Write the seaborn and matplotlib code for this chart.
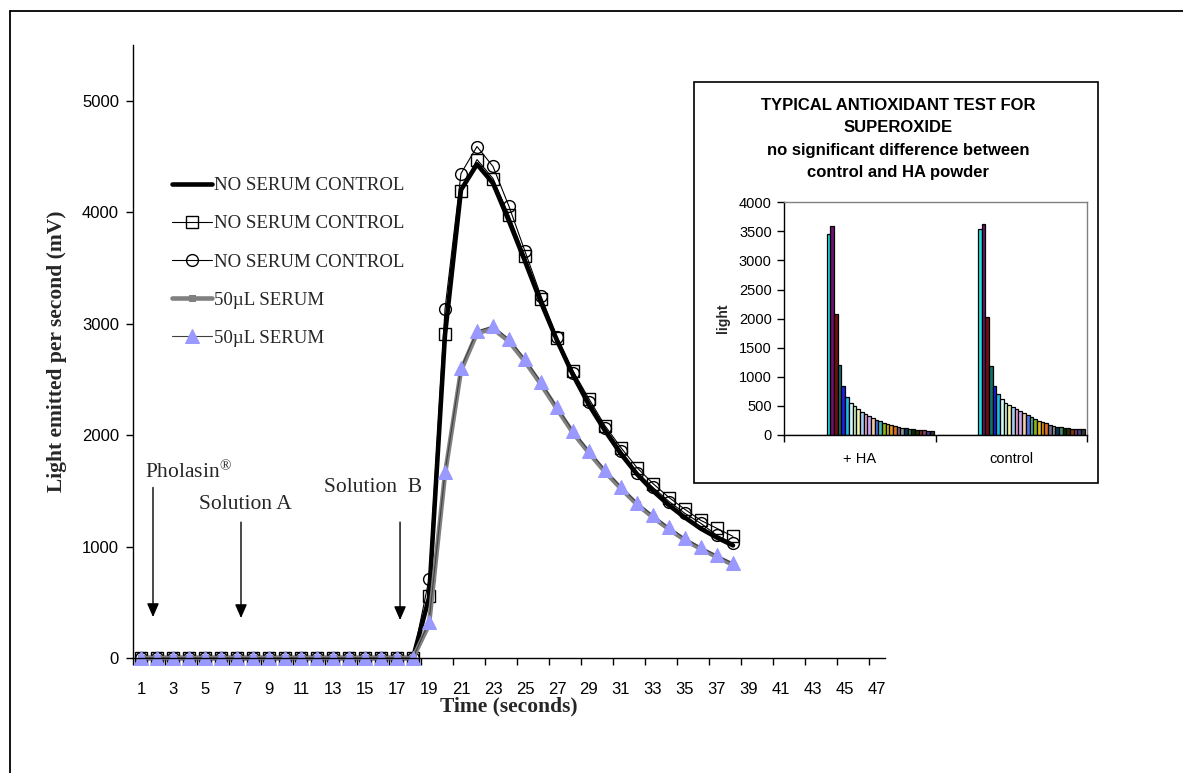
import matplotlib
matplotlib.use("Agg")
import matplotlib.pyplot as plt
from matplotlib.lines import Line2D
from matplotlib.patches import Rectangle
import pandas as pd
import seaborn as sns

# ---------------- main chart data (light emitted, mV) ----------------
time_s = list(range(1, 39))
control_line = [0] * 18 + [540, 2900, 4200, 4430, 4260, 3920, 3560, 3190, 2850, 2540,
                           2270, 2040, 1830, 1650, 1500, 1370, 1260, 1160, 1080, 1010]
control_sq = [0] * 18 + [555, 2907, 4186, 4472, 4302, 3971, 3604, 3220, 2871, 2576,
                         2325, 2084, 1887, 1708, 1565, 1440, 1333, 1234, 1163, 1091]
control_circ = [0] * 18 + [707, 3130, 4347, 4589, 4410, 4052, 3649, 3247, 2880, 2560,
                           2300, 2065, 1860, 1664, 1530, 1404, 1297, 1207, 1100, 1029]
serum_line = [0] * 18 + [300, 1650, 2580, 2915, 2955, 2840, 2660, 2455, 2235, 2020,
                         1840, 1670, 1520, 1378, 1262, 1155, 1058, 978, 906, 836]
serum_tri = [0] * 18 + [325, 1667, 2603, 2934, 2978, 2862, 2683, 2478, 2254, 2039,
                        1860, 1690, 1538, 1395, 1279, 1172, 1073, 993, 921, 850]
series_labels = ["NO SERUM CONTROL", "NO SERUM CONTROL", "NO SERUM CONTROL",
                 "50\u00b5L SERUM", "50\u00b5L SERUM"]
x_tick_labels = [str(v) for v in range(1, 48, 2)]
y_ticks = [0, 1000, 2000, 3000, 4000, 5000]

# ---------------- inset data (light per reading) ----------------
inset_groups = ["+ HA", "control"]
ha_light = [0] * 11 + [3455, 3600, 2075, 1210, 840, 653, 556, 499, 453, 401, 361, 327,
                       292, 264, 235, 212, 189, 172, 155, 138, 126, 115, 108, 97, 92,
                       86, 80, 75, 72]
control_light = [0] * 11 + [3536, 3622, 2023, 1192, 838, 699, 613, 556, 516, 476, 441,
                            407, 372, 338, 304, 275, 246, 223, 200, 178, 160, 143, 132,
                            120, 115, 109, 103, 97, 95]
bar_colors = ["#9999FF", "#993366", "#FFFFCC", "#CCFFFF", "#660066", "#FF8080", "#0066CC",
              "#CCCCFF", "#000080", "#FF00FF", "#FFFF00", "#00FFFF", "#800080", "#800000",
              "#008080", "#0000FF", "#00CCFF", "#CCFFFF", "#CCFFCC", "#FFFF99", "#99CCFF",
              "#FF99CC", "#CC99FF", "#FFCC99", "#3366FF", "#33CCCC", "#99CC00", "#FFCC00",
              "#FF9900", "#FF6600", "#666699", "#969696", "#003366", "#339966", "#003300",
              "#333300", "#993300", "#993366", "#333399", "#333333"]
inset_title = ["TYPICAL ANTIOXIDANT TEST FOR", "SUPEROXIDE",
               "no significant difference between", "control and HA powder"]
inset_y_ticks = list(range(0, 4001, 500))

sns.set_theme(style="white")
plt.rcParams["font.family"] = ["Liberation Sans", "DejaVu Sans"]
plt.rcParams["mathtext.fontset"] = "custom"
plt.rcParams["mathtext.rm"] = "Liberation Serif"
plt.rcParams["mathtext.default"] = "regular"

W, H = 1183, 773
fig = plt.figure(figsize=(W / 100, H / 100), dpi=100)
fig.patch.set_facecolor("white")

SERIF = ["Liberation Serif", "DejaVu Serif"]

# ---------------- main axes ----------------
ax = fig.add_axes([133 / W, 1 - 658 / H, (885 - 133) / W, (658 - 45) / H])
ax.set_facecolor("white")

sns.lineplot(x=time_s, y=control_line, ax=ax, color="black", lw=3.3,
             label=series_labels[0], sort=False)
sns.lineplot(x=time_s, y=control_sq, ax=ax, color="black", lw=0.8, marker="s",
             markersize=8.5, markerfacecolor="none", markeredgecolor="black",
             markeredgewidth=1.0, label=series_labels[1], sort=False)
sns.lineplot(x=time_s, y=control_circ, ax=ax, color="black", lw=0.8, marker="o",
             markersize=8.5, markerfacecolor="none", markeredgecolor="black",
             markeredgewidth=1.0, label=series_labels[2], sort=False)
sns.lineplot(x=time_s, y=serum_line, ax=ax, color="#808080", lw=3.3, marker="s",
             markersize=4, markerfacecolor="#808080", markeredgecolor="#808080",
             label=series_labels[3], sort=False)
sns.lineplot(x=time_s, y=serum_tri, ax=ax, color="#404040", lw=0.8, marker="^",
             markersize=10, markerfacecolor="#9999FF", markeredgecolor="#9999FF",
             label=series_labels[4], sort=False)
for ln in ax.lines:
    ln.set_clip_on(False)

ax.set_xlim(0.5, 47.5)
ax.set_ylim(0, 5500)
ax.set_xticks(list(range(1, 48, 2)))
ax.set_xticklabels(x_tick_labels)
ax.set_xticks([0.5 + 2 * k for k in range(24)], minor=True)
ax.set_yticks(y_ticks)
ax.set_yticklabels([str(v) for v in y_ticks])
ax.tick_params(axis="x", which="major", length=0, pad=17, labelsize=12, colors="black")
ax.tick_params(axis="x", which="minor", length=5, width=1, direction="out", color="black",
               bottom=True)
ax.tick_params(axis="y", which="major", length=5, width=1, direction="out", pad=5,
               labelsize=12, colors="black", left=True)
for side in ["top", "right"]:
    ax.spines[side].set_visible(False)
for side in ["left", "bottom"]:
    ax.spines[side].set_color("black")
    ax.spines[side].set_linewidth(1.0)

ax.set_xlabel("Time (seconds)", fontsize=15.5, fontweight="bold", family=SERIF)
ax.xaxis.set_label_coords(0.5, -0.062)
ax.set_ylabel("Light emitted per second (mV)", fontsize=15.5, fontweight="bold",
              family=SERIF)
ax.yaxis.set_label_coords(-0.088, 0.5)

leg = ax.legend(loc="upper left", bbox_to_anchor=(172 / W, 1 - 177 / H),
                bbox_transform=fig.transFigure, frameon=False, borderpad=0,
                borderaxespad=0, handlelength=2.1, handletextpad=0.1,
                labelspacing=1.11, prop={"family": SERIF, "size": 13.6})

# event markers
arrow_style = dict(arrowstyle="-|>,head_length=0.55,head_width=0.24", color="black",
                   lw=1.0, mutation_scale=15, shrinkA=0, shrinkB=0)
ax.annotate("", xy=(1.75, 367), xytext=(1.75, 1530), arrowprops=arrow_style)
ax.annotate("", xy=(7.25, 358), xytext=(7.25, 1219), arrowprops=arrow_style)
ax.annotate("", xy=(17.19, 340), xytext=(17.19, 1219), arrowprops=arrow_style)
ax.text(1.25, 1619, "Pholasin$^{\u00ae}$", fontsize=15.5, family=SERIF, va="baseline")
ax.text(4.62, 1333, "Solution A", fontsize=15.5, family=SERIF, va="baseline")
ax.text(12.44, 1485, "Solution  B", fontsize=15.5, family=SERIF, va="baseline")

# ---------------- inset panel ----------------
box = Rectangle((694 / W, 1 - 483 / H), (1098 - 694) / W, (483 - 82) / H,
                transform=fig.transFigure, facecolor="white", edgecolor="black",
                lw=1.2, zorder=1)
fig.patches.append(box)

for i, line in enumerate(inset_title):
    fig.text(898 / W, 1 - (105.5 + 22.3 * i) / H, line, ha="center", va="center",
             fontsize=12, fontweight="bold", color="black", zorder=3)

inset = fig.add_axes([784.3 / W, 1 - 435 / H, (1086.7 - 784.3) / W, (435 - 202.3) / H],
                     zorder=2)
inset.set_facecolor("white")
series_names = [f"S{i:02d}" for i in range(1, len(bar_colors) + 1)]
df_bar = pd.DataFrame({
    "group": [inset_groups[0]] * len(ha_light) + [inset_groups[1]] * len(control_light),
    "series": series_names * 2,
    "light": ha_light + control_light,
})
sns.barplot(data=df_bar, x="group", y="light", hue="series", palette=bar_colors,
            width=0.974, gap=0, edgecolor="black", linewidth=0.9, errorbar=None,
            legend=False, ax=inset)
inset.set_xlim(-0.5, 1.5)
inset.set_ylim(0, 4000)
inset.set_yticks(inset_y_ticks)
inset.set_yticklabels([str(v) for v in inset_y_ticks])
inset.set_xticks([0, 1])
inset.set_xticklabels(inset_groups)
inset.set_xticks([-0.5, 0.5, 1.5], minor=True)
inset.tick_params(axis="x", which="major", length=0, pad=12, labelsize=10.5,
                  colors="black")
inset.tick_params(axis="x", which="minor", length=5, width=1, direction="out",
                  color="black", bottom=True)
inset.tick_params(axis="y", which="major", length=5, width=1, direction="out", pad=4,
                  labelsize=10.5, colors="black", left=True)
inset.set_xlabel("")
inset.set_ylabel("light", fontsize=10, fontweight="bold")
inset.yaxis.set_label_coords(-0.18, 0.5)
for side in ["left", "bottom"]:
    inset.spines[side].set_color("black")
    inset.spines[side].set_linewidth(1.0)
for side in ["top", "right"]:
    inset.spines[side].set_color("#808080")
    inset.spines[side].set_linewidth(1.0)

# page border (top and left edges of the chart frame)
fig.lines.append(Line2D([10 / W, 1.0], [1 - 10.5 / H, 1 - 10.5 / H],
                        transform=fig.transFigure, color="black", lw=1.3))
fig.lines.append(Line2D([10 / W, 10 / W], [0.0, 1 - 10.5 / H],
                        transform=fig.transFigure, color="black", lw=1.3))

fig.savefig("out.png", dpi=100, facecolor="white")
